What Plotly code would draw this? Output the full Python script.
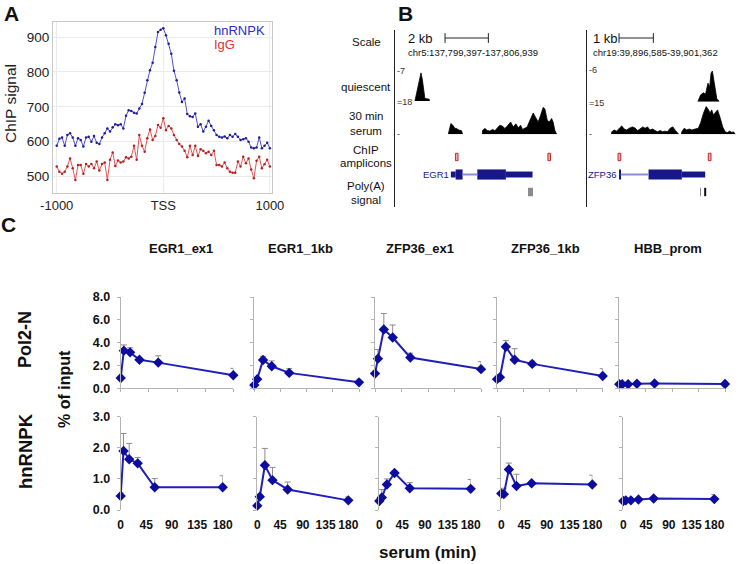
import plotly.graph_objects as go

W, H = 745, 564
FONT = "Liberation Sans, Arial, sans-serif"

# ---------------- Panel A: ChIP signal around TSS ----------------
POS_BP = list(range(-1000, 1001, 25))
HNRNPK_SIGNAL = [588, 608, 612, 588, 619, 624, 612, 588, 610, 605, 586, 612, 614, 600, 616, 597, 593,
                 612, 624, 638, 629, 641, 650, 647, 650, 638, 674, 690, 688, 683, 681, 695, 708, 740,
                 776, 805, 826, 871, 914, 921, 925,
                 905, 881, 852, 803, 776, 741, 714, 724, 679, 673, 671, 681, 643, 650, 629, 643, 660,
                 645, 633, 619, 614, 612, 615, 610, 619, 614, 622, 614, 605, 607, 610, 600, 583, 581,
                 583, 612, 581, 588, 597, 581]
IGG_SIGNAL = [529, 514, 508, 514, 529, 552, 524, 490, 533, 533, 508, 536, 529, 536, 524, 543, 517,
              536, 540, 490, 548, 569, 530, 546, 540, 543, 555, 552, 557, 588, 548, 619, 588, 571,
              610, 635, 605, 616, 648, 640, 667,
              633, 645, 638, 619, 605, 593, 586, 574, 555, 588, 562, 588, 559, 578, 574, 567, 571,
              562, 574, 533, 533, 529, 540, 524, 514, 511, 511, 543, 529, 557, 538, 552, 520, 495,
              545, 557, 524, 535, 548, 529]
A_XTICKS = [-1000, 0, 1000]
A_XLABELS = ["-1000", "TSS", "1000"]
A_YTICKS = [500, 600, 700, 800, 900]

# ---------------- Panel B: genome browser tracks (kb from window start) ----------------
EGR1_QUI_KB = [0.76, 0.84, 0.93, 1.04, 1.10, 1.16, 1.22, 1.42, 1.43]
EGR1_QUI_VAL = [0, 1.8, 4.0, 6.45, 5.0, 2.8, 0.6, 0.4, 0]
EGR1_SER1_KB = [2.30, 2.38, 2.42, 2.50, 2.61, 2.68, 2.79, 2.91, 2.96]
EGR1_SER1_VAL = [0, 5.0, 6.4, 5.5, 3.5, 3.5, 2.5, 2.1, 0]
EGR1_SER2_KB = [3.87, 3.88, 3.99, 4.10, 4.22, 4.35, 4.45, 4.56, 4.68, 4.81, 4.91, 5.02, 5.18, 5.30,
                5.42, 5.53, 5.64, 5.73, 5.84, 5.94, 6.07, 6.22, 6.34, 6.45, 6.56, 6.68, 6.76, 6.87,
                6.96, 7.07, 7.14, 7.22, 7.30, 7.31]
EGR1_SER2_VAL = [0, 2.3, 3.5, 2.3, 1.9, 2.9, 2.1, 3.5, 5.4, 4.8, 3.5, 4.8, 7.3, 4.3, 6.2, 3.9, 5.4,
                 2.9, 3.5, 4.3, 8.3, 12.6, 9.9, 7.3, 11.2, 16.0, 15.1, 8.3, 7.3, 9.4, 7.3, 2.3, 0.2, 0]
ZFP36_QUI_KB = [3.16, 3.17, 3.24, 3.32, 3.38, 3.45, 3.50, 3.54, 3.58, 3.62, 3.66, 3.71, 3.76, 3.77]
ZFP36_QUI_VAL = [0, 0.25, 1.3, 1.7, 1.4, 3.5, 2.8, 5.4, 5.8, 4.1, 2.2, 0.5, 0.25, 0]
ZFP36_SER1_KB = [0.64, 0.65, 0.72, 0.79, 0.87, 0.94, 1.01, 1.08, 1.16, 1.25, 1.33, 1.40, 1.47, 1.55,
                 1.62, 1.69, 1.76, 1.84, 1.91, 1.98, 2.06, 2.13, 2.20, 2.27, 2.35, 2.43, 2.49, 2.59, 2.60]
ZFP36_SER1_VAL = [0, 1.3, 2.2, 1.6, 3.1, 4.3, 2.7, 2.2, 3.1, 3.8, 3.2, 1.9, 2.7, 3.8, 3.1, 3.8, 2.2,
                  2.7, 1.9, 1.3, 1.9, 1.3, 1.6, 1.3, 3.1, 3.8, 2.2, 0.2, 0]
ZFP36_SER2_KB = [2.68, 2.69, 2.76, 2.83, 2.91, 2.98, 3.08, 3.17, 3.24, 3.32, 3.40, 3.47, 3.51, 3.56,
                 3.61, 3.66, 3.73, 3.81, 3.88, 3.95, 4.02, 4.08, 4.15, 4.19, 4.24, 4.25]
ZFP36_SER2_VAL = [0, 1.3, 3.1, 2.2, 2.7, 2.2, 2.7, 3.1, 6.0, 10.8, 14.2, 12.5, 10.8, 12.5, 9.9, 10.8,
                  12.5, 8.2, 3.8, 1.3, 0.9, 1.6, 0.9, 1.3, 0.2, 0]

EGR1_THICK = [(2.64, 2.96), (3.64, 4.96)]
EGR1_UTR = [(2.42, 2.64), (4.96, 6.19)]
EGR1_INTRON = (2.96, 3.64)
ZFP36_THICK = [(0.87, 0.91), (1.72, 2.69)]
ZFP36_UTR = [(2.69, 3.37)]
ZFP36_INTRON = (0.91, 1.72)
EGR1_AMPLICONS = [2.69, 6.96]
ZFP36_AMPLICONS = [0.87, 3.50]
EGR1_POLYA = [5.99, 6.07, 6.14]
ZFP36_POLYA_WEAK = [3.22]
ZFP36_POLYA_STRONG = [3.34]

# ---------------- Panel C: time courses ----------------
TIMES = [0, 5, 15, 30, 60, 180]
AMPLICONS = ["EGR1_ex1", "EGR1_1kb", "ZFP36_ex1", "ZFP36_1kb", "HBB_prom"]
POL2_MEAN = [[0.9, 3.3, 3.15, 2.5, 2.25, 1.15],
             [0.28, 0.8, 2.48, 1.93, 1.35, 0.52],
             [1.3, 2.6, 5.15, 4.45, 2.7, 1.68],
             [0.8, 0.97, 3.64, 2.5, 2.14, 1.08],
             [0.35, 0.35, 0.36, 0.4, 0.42, 0.38]]
POL2_ERR = [[0, 0.5, 0.4, 0, 0.6, 0.6],
            [0, 0.1, 0.32, 0.47, 0.37, 0],
            [0, 0.8, 1.4, 1.1, 0.38, 0.65],
            [0, 0, 0.54, 0.97, 0.24, 0.64],
            [0, 0, 0, 0.02, 0.03, 0]]
HNRNPK_MEAN = [[0.45, 1.9, 1.63, 1.5, 0.73, 0.73],
               [0.14, 0.43, 1.44, 0.96, 0.66, 0.31],
               [0.29, 0.4, 0.82, 1.19, 0.7, 0.68],
               [0.53, 0.51, 1.3, 0.77, 0.86, 0.82],
               [0.29, 0.31, 0.31, 0.34, 0.37, 0.35]]
HNRNPK_ERR = [[0.1, 0.56, 0.51, 0.19, 0.28, 0.37],
              [0, 0.07, 0.54, 0.41, 0.24, 0.11],
              [0, 0.26, 0.18, 0.06, 0.18, 0.3],
              [0, 0.19, 0.21, 0.38, 0, 0.3],
              [0, 0.03, 0, 0.03, 0.05, 0.15]]
TIME_TICKS = [0, 45, 90, 135, 180]


def px_x(p):
    return p / W


def px_y(p):
    return 1 - p / H


def xdom(left, right):
    return [px_x(left), px_x(right)]


def ydom(top, bottom):
    return [px_y(bottom), px_y(top)]


fig = go.Figure()
layout = dict(
    width=W, height=H, autosize=False,
    margin=dict(l=0, r=0, t=0, b=0, pad=0),
    paper_bgcolor="white", plot_bgcolor="white",
    showlegend=False, barmode="overlay",
    font=dict(family=FONT, size=12, color="#111"),
)
annotations = []


def text(x, y, s, size, bold=False, color="#111", xanchor="center", angle=0):
    annotations.append(dict(
        x=px_x(x), y=px_y(y), xref="paper", yref="paper", text=s, showarrow=False,
        xanchor=xanchor, yanchor="middle", textangle=angle, borderpad=0,
        font=dict(family=FONT, size=size, color=color, weight="bold" if bold else "normal"),
    ))


# ---- Panel A ----
fig.add_trace(go.Scatter(x=POS_BP, y=IGG_SIGNAL, mode="lines+markers",
                         line=dict(color="#e05555", width=1), marker=dict(size=2.5, color="#b52020"),
                         xaxis="x", yaxis="y"))
fig.add_trace(go.Scatter(x=POS_BP, y=HNRNPK_SIGNAL, mode="lines+markers",
                         line=dict(color="#5050d8", width=1), marker=dict(size=2.5, color="#1c1c9c"),
                         xaxis="x", yaxis="y"))
axis_a = dict(showgrid=True, gridcolor="#ebebeb", showline=True, mirror=True, linecolor="#c8c8c8",
              zeroline=False, ticks="", automargin=False, tickfont=dict(size=13, color="#222"))
layout["xaxis"] = dict(axis_a, domain=xdom(53, 272), range=[-1035, 1020], tickvals=A_XTICKS,
                       ticktext=A_XLABELS, anchor="y")
layout["yaxis"] = dict(axis_a, domain=ydom(22, 193.3), range=[452, 943], tickvals=A_YTICKS,
                       anchor="x", tickfont=dict(size=13.5, color="#222"))
text(10, 104, "ChIP signal", 15.5, angle=-90, color="#222")
text(213, 31, "hnRNPK", 13, color="#2b2bd0", xanchor="left")
text(213, 44.5, "IgG", 13, color="#e03030", xanchor="left")
text(11, 14, "A", 21, bold=True)

# ---- Panel B ----
B_REGIONS = [
    dict(xa="x2", ya=("y2", "y3", "y4"), dom=(395, 562), rng=[-0.16, 7.55],
         qui=(EGR1_QUI_KB, EGR1_QUI_VAL), qmax=7, smax=18,
         ser=[(EGR1_SER1_KB, EGR1_SER1_VAL), (EGR1_SER2_KB, EGR1_SER2_VAL)],
         qdom=(70.5, 101), sdom=(104, 134.3),
         thick=EGR1_THICK, utr=EGR1_UTR, intron=EGR1_INTRON, amp=EGR1_AMPLICONS, amp_len=0.12,
         polya=[(EGR1_POLYA, "#8a8a8a", 0.035)], scale=(2.15, 2.0)),
    dict(xa="x3", ya=("y5", "y6", "y7"), dom=(587, 745), rng=[-0.073, 4.53],
         qui=(ZFP36_QUI_KB, ZFP36_QUI_VAL), qmax=6, smax=15,
         ser=[(ZFP36_SER1_KB, ZFP36_SER1_VAL), (ZFP36_SER2_KB, ZFP36_SER2_VAL)],
         qdom=(70, 101.7), sdom=(105, 134.3),
         thick=ZFP36_THICK, utr=ZFP36_UTR, intron=ZFP36_INTRON, amp=ZFP36_AMPLICONS, amp_len=0.08,
         polya=[(ZFP36_POLYA_WEAK, "#8a8a8a", 0.025), (ZFP36_POLYA_STRONG, "#111111", 0.06)],
         scale=(0.86, 1.0)),
]
GENE_NAVY = "#17178a"
ROW_RANGE = [0.143, 10.257]
for reg in B_REGIONS:
    xa = reg["xa"]
    ya_rows, ya_q, ya_s = reg["ya"]
    # coverage tracks
    fig.add_trace(go.Scatter(x=reg["qui"][0], y=reg["qui"][1], mode="lines", fill="tozeroy",
                             fillcolor="black", line=dict(color="black", width=0.8),
                             xaxis=xa, yaxis=ya_q))
    for kb, val in reg["ser"]:
        fig.add_trace(go.Scatter(x=kb, y=val, mode="lines", fill="tozeroy", fillcolor="black",
                                 line=dict(color="black", width=0.8), xaxis=xa, yaxis=ya_s))
    # amplicons (row 3)
    fig.add_trace(go.Bar(orientation="h", y=[3] * len(reg["amp"]), x=[reg["amp_len"]] * len(reg["amp"]),
                         base=[c - reg["amp_len"] / 2 for c in reg["amp"]], width=0.42,
                         marker=dict(color="#eab0b0", line=dict(color="#c62828", width=1)),
                         xaxis=xa, yaxis=ya_rows))
    # gene model (row 2)
    fig.add_trace(go.Scatter(x=list(reg["intron"]), y=[2, 2], mode="lines",
                             line=dict(color="#8c8cd2", width=2), xaxis=xa, yaxis=ya_rows))
    fig.add_trace(go.Bar(orientation="h", y=[2] * len(reg["utr"]), x=[b - a for a, b in reg["utr"]],
                         base=[a for a, b in reg["utr"]], width=0.34, marker=dict(color=GENE_NAVY, line=dict(width=0)),
                         xaxis=xa, yaxis=ya_rows))
    fig.add_trace(go.Bar(orientation="h", y=[2] * len(reg["thick"]), x=[b - a for a, b in reg["thick"]],
                         base=[a for a, b in reg["thick"]], width=0.58, marker=dict(color=GENE_NAVY, line=dict(width=0)),
                         xaxis=xa, yaxis=ya_rows))
    # poly(A) signals (row 1)
    for sites, col, ln in reg["polya"]:
        fig.add_trace(go.Bar(orientation="h", y=[1] * len(sites), x=[ln] * len(sites),
                             base=sites, width=0.48, marker=dict(color=col, line=dict(width=0)),
                             xaxis=xa, yaxis=ya_rows))
    # scale bar
    s0, slen = reg["scale"]
    fig.add_trace(go.Scatter(x=[s0, s0 + slen], y=[9.8, 9.8], mode="lines+markers",
                             line=dict(color="#222", width=1),
                             marker=dict(symbol="line-ns", size=7, line=dict(width=1, color="#222")),
                             xaxis=xa, yaxis=ya_rows))

    xi = xa[1:]
    layout["xaxis" + xi] = dict(domain=xdom(*reg["dom"]), range=reg["rng"], visible=False,
                                anchor=ya_rows, automargin=False)
    layout["yaxis" + ya_rows[1:]] = dict(domain=ydom(30, 207), range=ROW_RANGE, anchor=xa,
                                         showline=True, linecolor="#222", linewidth=1,
                                         showticklabels=False, ticks="", showgrid=False,
                                         zeroline=False, automargin=False)
    trk = dict(anchor=xa, visible=False, automargin=False)
    layout["yaxis" + ya_q[1:]] = dict(trk, domain=ydom(*reg["qdom"]), range=[0, reg["qmax"]])
    layout["yaxis" + ya_s[1:]] = dict(trk, domain=ydom(*reg["sdom"]), range=[0, reg["smax"]])

# track scale marks next to the frame lines
for fx, qmax, smax, qtop, qbot, sbot in [(395, 7, 18, 70.5, 101, 134.3), (587, 6, 15, 70, 101.7, 134.3)]:
    text(fx + 1, qtop, f"-{qmax}", 9, xanchor="left", color="#333")
    text(fx + 1, qbot + 1.5, f"={smax}", 9, xanchor="left", color="#333")
    text(fx + 1, sbot, "-", 9, xanchor="left", color="#333")

text(407, 38, "2 kb", 13, xanchor="left")
text(407, 52, "chr5:137,799,397-137,806,939", 9.5, xanchor="left")
text(592, 38, "1 kb", 13, xanchor="left")
text(592, 52, "chr19:39,896,585-39,901,362", 9.5, xanchor="left")
text(450, 174, "EGR1", 9.5, color=GENE_NAVY, xanchor="right")
text(618, 174, "ZFP36", 9.5, color=GENE_NAVY, xanchor="right")
for label, ypos in [("Scale", 42), ("quiescent", 87), ("30 min", 116), ("serum", 131),
                    ("ChIP", 149.5), ("amplicons", 162.5), ("Poly(A)", 186.5), ("signal", 199.5)]:
    text(366, ypos, label, 11.5)
text(405, 13, "B", 21, bold=True)

# ---- Panel C ----
TOP_X_PX = [(120.7, 233.3), (254.3, 359), (375, 481), (497, 602.7), (619.3, 725)]
BOT_X_PX = [(120.7, 222.7), (257.3, 348.3), (379.3, 470.7), (501.3, 592.3), (623.3, 714.3)]
ROWS_C = [
    dict(mean=POL2_MEAN, err=POL2_ERR, xpx=TOP_X_PX, ypx=(297, 388.3), yr=[0, 8],
         yt=[0, 2, 4, 6, 8], top=True),
    dict(mean=HNRNPK_MEAN, err=HNRNPK_ERR, xpx=BOT_X_PX, ypx=(416.7, 510), yr=[0, 3],
         yt=[0, 1, 2, 3], top=False),
]
AX_GRAY = "#b4b4b4"
n = 4
for row in ROWS_C:
    for j in range(len(AMPLICONS)):
        xa, ya = f"x{n}", f"y{n + 4}"
        fig.add_trace(go.Scatter(
            x=TIMES, y=row["mean"][j], mode="lines+markers",
            line=dict(color="#1f1fb8", width=2),
            marker=dict(symbol="diamond", size=8, color="#0c0c9e"),
            error_y=dict(type="data", array=row["err"][j], arrayminus=[0] * len(TIMES),
                         symmetric=False, color="#8c8c8c", thickness=1, width=3),
            cliponaxis=False, xaxis=xa, yaxis=ya))
        xaxis = dict(domain=xdom(*row["xpx"][j]), range=[0, 180], anchor=ya, tickvals=TIME_TICKS,
                     showgrid=False, zeroline=False, automargin=False)
        if row["top"]:
            xaxis.update(showline=True, linecolor=AX_GRAY, ticks="outside", ticklen=3,
                         tickcolor=AX_GRAY, showticklabels=False)
        else:
            xaxis.update(showline=False, ticks="", showticklabels=True, ticklabelstandoff=6,
                         tickfont=dict(size=12, color="#111", weight="bold"))
        layout[f"xaxis{n}"] = xaxis
        layout[f"yaxis{n + 4}"] = dict(
            domain=ydom(*row["ypx"]), range=row["yr"], anchor=xa, tickvals=row["yt"],
            tickformat=".1f", showline=True, linecolor=AX_GRAY, ticks="outside", ticklen=3,
            tickcolor=AX_GRAY, showgrid=False, zeroline=False, showticklabels=(j == 0),
            automargin=False, ticklabelstandoff=4,
            tickfont=dict(size=12.5, color="#111", weight="bold"))
        n += 1

for name, cx in zip(AMPLICONS, [181, 300, 420, 545, 668]):
    text(cx, 249, name, 13, bold=True)
text(25, 340, "Pol2-N", 18, bold=True, angle=-90)
text(25, 451, "hnRNPK", 18.5, bold=True, angle=-90)
text(64, 389, "% of input", 16, bold=True, angle=-90)
text(427, 552, "serum (min)", 17, bold=True)
text(8, 224, "C", 21, bold=True)

layout["annotations"] = annotations
fig.update_layout(**layout)
fig.write_html("out.html", config={"displayModeBar": False},
               post_script="document.body.style.margin='0';")
